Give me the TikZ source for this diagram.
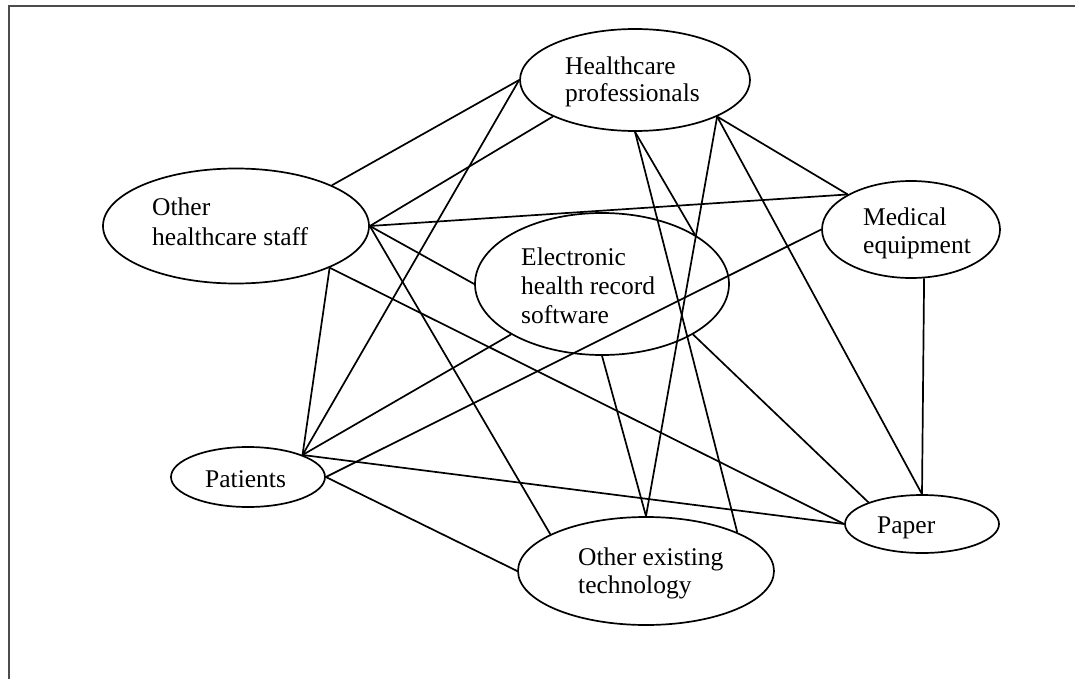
\documentclass[tikz,border=0pt]{standalone}
\usepackage{fontspec}
\setmainfont{Liberation Serif}
\usetikzlibrary{shapes.geometric}
\begin{document}
\begin{tikzpicture}[x=1pt,y=-1pt,
  blob/.style={draw,ellipse,line width=1.7pt,inner sep=0pt},
  lbl/.style={font=\fontsize{25.5}{29}\selectfont,align=left,inner sep=0pt,anchor=base west},
  link/.style={line width=1.7pt}]
\useasboundingbox (0,0) rectangle (1075,679);
% outer frame (top and left edges)
\draw[line width=2.2pt,color=black!70] (9,680) -- (9,6) -- (1076,6);

% ellipses
\node[blob,minimum width=230,minimum height=102] (hp) at (635,80) {};
\node[blob,minimum width=266,minimum height=115] (ohs) at (236,226) {};
\node[blob,minimum width=254,minimum height=142] (ehr) at (602,284) {};
\node[blob,minimum width=178,minimum height=97] (me) at (911,229.5) {};
\node[blob,minimum width=154,minimum height=60] (pat) at (248,477) {};
\node[blob,minimum width=256,minimum height=108] (oet) at (646,571) {};
\node[blob,minimum width=154,minimum height=58] (pap) at (922,524) {};

% labels (anchored at the baseline of the last line)
\node[lbl] (hpt) at (565,102) {Healthcare\\[-2pt]professionals};
\node[lbl] (ohst) at (152,245) {Other\\[1pt]healthcare staff};
\node[lbl] (ehrt) at (521,323) {Electronic\\health record\\software};
\node[lbl] (met) at (863,253) {Medical\\[-1pt]equipment};
\node[lbl] (patt) at (205,487) {Patients};
\node[lbl] (oett) at (578,593) {Other existing\\[-1pt]technology};
\node[lbl] (papt) at (877,533) {Paper};

% connectors
\draw[link] (ohs.23) -- (hp.180);
\draw[link] (ohs.0) -- (hp.204);
\draw[link] (ohs.0) -- (me.151);
\draw[link] (ohs.0) -- (ehr.180);
\draw[link] (ohs.0) -- (oet.159);
\draw[link] (ohs.336) -- (pat.22);
\draw[link] (ohs.336) -- (pap.180);
\draw[link] (pat.22) -- (hp.180);
\draw[link] (pat.22) -- (ehr.209);
\draw[link] (pat.22) -- (pap.180);
\draw[link] (pat.0) -- (me.180);
\draw[link] (pat.0) -- (oet.180);
\draw[link] (hp.270) -- (oet.23);
\draw[link] (hp.270) -- (ehr.28);
\draw[link] (hp.336) -- (oet.90);
\draw[link] (hp.336) -- (pap.90);
\draw[link] (hp.336) -- (me.151);
\draw[link] (me.285) -- (pap.90);
\draw[link] (ehr.270) -- (oet.90);
\draw[link] (ehr.331) -- (pap.158);
\end{tikzpicture}
\end{document}
